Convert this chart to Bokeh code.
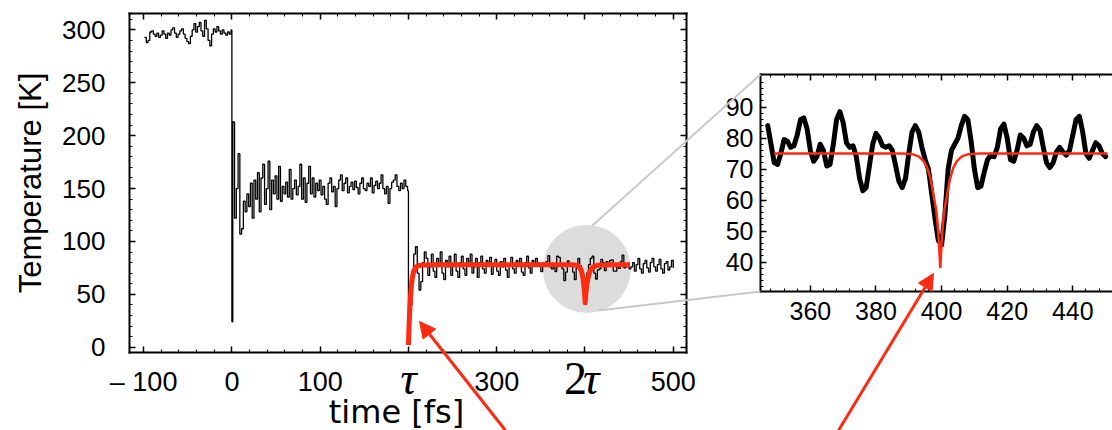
import numpy as np
from bokeh.plotting import figure
from bokeh.models import Range1d, LinearAxis, FixedTicker, Label, Arrow, NormalHead
from bokeh.embed import file_html
from bokeh.resources import INLINE

# ---------------- data ----------------
# main trace, t = -99 ... -1 fs (step 2)
T_PRE = [293, 288, 290, 298, 299, 296, 294, 297, 293, 295,
         299, 296, 292, 297, 295, 300, 302, 297, 293, 296,
         299, 301, 296, 292, 289, 287, 294, 300, 306, 298,
         303, 307, 299, 294, 309, 301, 290, 285, 296, 301,
         298, 303, 299, 296, 300, 297, 295, 298, 296, 300]
# first pulse, t = 0, 1 fs
T_PULSE_T = [0, 1]
T_PULSE = [24, 213]
# t = 3 ... 199 fs (step 2)
T_MID = [122, 150, 183, 107, 112, 138, 128, 145, 133, 155,
         122, 158, 140, 165, 128, 160, 173, 135, 150, 176,
         130, 158, 145, 162, 140, 171, 138, 152, 145, 156,
         142, 168, 140, 150, 158, 144, 152, 173, 140, 160,
         137, 155, 171, 145, 160, 142, 155, 148, 158, 144,
         152, 140, 135, 155, 160, 147, 152, 133, 150, 158,
         163, 148, 155, 160, 146, 152, 156, 149, 157, 151,
         145, 155, 160, 150, 148, 155, 152, 160, 146, 153,
         157, 150, 155, 163, 150, 145, 152, 136, 150, 156,
         158, 163, 152, 148, 155, 150, 158, 152, 148]
# second pulse, t = 200 fs
T_DROP_T = [200]
T_DROP = [3]
# t = 202 ... 346 fs (step 2)
T_LATE_A = [40, 72, 88, 95, 70, 54, 62, 80, 90, 84,
            68, 76, 88, 72, 66, 84, 78, 90, 70, 64,
            82, 76, 86, 68, 79, 88, 72, 66, 80, 86,
            74, 68, 84, 78, 88, 70, 76, 84, 66, 80,
            86, 74, 70, 82, 77, 85, 69, 78, 83, 72,
            68, 81, 76, 84, 73, 66, 79, 85, 74, 70,
            82, 78, 84, 71, 68, 80, 86, 75, 70, 82,
            77, 84, 80]
# zoom window, t = 347 ... 450 fs (step 1)
INSET_T0 = 347
INSET_T = [84, 78, 72, 71.5, 75, 79.5, 79, 77, 77.5, 81,
           86, 86.5, 83, 76, 72.5, 74, 78, 76, 71, 71.5,
           78, 86, 88.5, 85, 78.5, 77, 77.5, 74, 67, 63,
           64, 71, 78, 81.5, 80, 77.5, 77, 77.5, 76, 71,
           66, 64, 67, 75, 82, 84, 82, 77, 73, 70,
           62, 54, 47, 45.5, 55, 70, 76, 78, 80, 84,
           87, 86, 79, 70, 64, 64.5, 69, 73, 74.5, 74,
           77, 83, 84.5, 80, 73, 72.5, 76, 81, 80, 77.5,
           78, 82, 84, 82.5, 77, 72, 70.5, 72, 75.5, 77,
           75.5, 74.5, 76, 81, 86, 87, 82, 75, 73.5, 76,
           78.5, 77.5, 75, 74]
# t = 452 ... 500 fs (step 2)
T_LATE_C = [76, 80, 72, 78, 84, 74, 70, 79, 82, 75,
            71, 80, 84, 76, 72, 78, 83, 74, 70, 79,
            81, 73, 76, 82, 75]

# fitted curve (red), main panel
FIT_MAIN_X = [200, 200.4, 200.9, 201.5, 202.3, 203.3, 204.6, 206.3, 208.5, 212,
              218, 230, 300, 385, 391, 394, 396, 397.6, 398.7, 399.5,
              400.2, 401, 402.1, 403.6, 405.5, 408.5, 414, 430, 451]
FIT_MAIN_Y = [2, 12, 24, 35, 47, 58, 67, 72.5, 75.8, 77.2,
              77.8, 78, 78, 78, 77.5, 75.5, 72, 66, 59, 51,
              42, 51, 59, 66, 72, 75.5, 77.5, 78, 78]
# fitted curve (red), zoom panel
FIT_INSET_X = [349, 370, 388, 391.1, 393.1, 394.6, 395.6, 396.6, 397.3, 397.9,
               398.4, 398.8, 399.2, 399.6, 400.0, 400.4, 400.8, 401.3, 401.9, 402.6,
               403.6, 404.6, 406.1, 408.1, 411.6, 430, 450.6]
FIT_INSET_Y = [75, 75, 75, 74.8, 74, 72.5, 70.5, 67, 63, 59.5,
               56.5, 52, 46, 38, 46, 52, 56.5, 59.5, 63, 67,
               70.5, 72.5, 74, 74.8, 75, 75, 75]

# zoom-window marker (centre of grey disc, in data units)
ZOOM_CENTER_X = [402]
ZOOM_CENTER_Y = [74]

MAIN_XTICKS = [-100, 0, 100, 200, 300, 400, 500]
MAIN_XLABELS = ["\u2013 100", "0", "100", "", "300", "", "500"]
MAIN_YTICKS = [0, 50, 100, 150, 200, 250, 300]
TAU_TICKS = [200, 400]
INSET_XTICKS = [360, 380, 400, 420, 440]
INSET_YTICKS = [40, 50, 60, 70, 80, 90]

# ---------------- build series ----------------
t_pre = -99 + 2 * np.arange(len(T_PRE))
t_mid = 3 + 2 * np.arange(len(T_MID))
t_late_a = 202 + 2 * np.arange(len(T_LATE_A))
inset_t = INSET_T0 + np.arange(len(INSET_T))
even = (inset_t % 2 == 0)
t_late_b = inset_t[even]
v_late_b = np.array(INSET_T)[even]
t_late_c = 452 + 2 * np.arange(len(T_LATE_C))

t_main = np.concatenate([t_pre, T_PULSE_T, t_mid, T_DROP_T, t_late_a, t_late_b, t_late_c])
v_main = np.concatenate([T_PRE, T_PULSE, T_MID, T_DROP, T_LATE_A, v_late_b, T_LATE_C])

RED = "#ff2a12"
GREY = "#c9c9c9"
FONT = "Liberation Sans"

# ---------------- canvas geometry (canvas pixels, y down) ----------------
W, H = 1112, 430
MAIN_BOX = dict(left=129, right=686, top=13, bottom=352)
INSET_BOX = dict(left=760, right=1112, top=74, bottom=291)
MAIN_XR, MAIN_YR = (-116, 515), (-5, 315.5)
INSET_XR, INSET_YR = (344.8, 452.1), (30.5, 100.5)


def xrange_for(dr, box):
    scale = (dr[1] - dr[0]) / (box["right"] - box["left"])
    start = dr[0] - box["left"] * scale
    return Range1d(start=start, end=start + W * scale)


def yrange_for(dr, box):
    scale = (dr[1] - dr[0]) / (box["bottom"] - box["top"])
    end = dr[1] + box["top"] * scale
    return Range1d(start=end - H * scale, end=end)


p = figure(width=W, height=H, x_range=Range1d(0, W), y_range=Range1d(H, 0),
           x_axis_type=None, y_axis_type=None, min_border=0,
           output_backend="svg", toolbar_location=None)
p.outline_line_color = None
p.background_fill_color = "white"
p.border_fill_color = "white"
p.extra_x_ranges = {"mx": xrange_for(MAIN_XR, MAIN_BOX), "ix": xrange_for(INSET_XR, INSET_BOX)}
p.extra_y_ranges = {"my": yrange_for(MAIN_YR, MAIN_BOX), "iy": yrange_for(INSET_YR, INSET_BOX)}


def add_axis(side, xr, yr, loc, bounds, ticks, minor, labels=None,
             size="26px", standoff=10, hide=False):
    ax = LinearAxis(x_range_name=xr, y_range_name=yr, fixed_location=loc, bounds=bounds,
                    ticker=FixedTicker(ticks=ticks, minor_ticks=minor))
    ax.axis_line_color = "black"
    ax.axis_line_width = 2
    ax.axis_line_cap = "square"
    ax.major_tick_in = 6
    ax.major_tick_out = 0
    ax.major_tick_line_color = "black"
    ax.major_tick_line_width = 1.5
    ax.minor_tick_in = 3
    ax.minor_tick_out = 0
    ax.minor_tick_line_color = "black"
    ax.minor_tick_line_width = 1
    ax.major_label_text_font = FONT
    ax.major_label_text_color = "black"
    ax.major_label_text_font_size = size
    ax.major_label_standoff = standoff
    if labels is not None:
        ax.major_label_overrides = {t: l for t, l in zip(ticks, labels)}
    if hide:
        ax.major_label_overrides = {t: "" for t in ticks}
        ax.major_label_text_font_size = "0px"
        ax.major_label_standoff = 0
    p.add_layout(ax, side)
    return ax


# main panel axes (box drawn by the four axis lines)
xminor = [v for v in range(-100, 520, 20) if v % 100 != 0]
yminor = [v for v in range(0, 315, 10) if v % 50 != 0]
add_axis("below", "mx", "my", MAIN_YR[0], MAIN_XR, MAIN_XTICKS, xminor,
         labels=MAIN_XLABELS, size="27px", standoff=14)
yax = add_axis("left", "mx", "my", MAIN_XR[0], MAIN_YR, MAIN_YTICKS, yminor,
               size="26px", standoff=24)
yax.axis_label = "Temperature [K]"
yax.axis_label_text_font = FONT
yax.axis_label_text_font_size = "31px"
yax.axis_label_text_font_style = "normal"
yax.axis_label_text_color = "black"
yax.axis_label_standoff = 11
add_axis("above", "mx", "my", MAIN_YR[1], MAIN_XR, MAIN_XTICKS, xminor, hide=True)
add_axis("right", "mx", "my", MAIN_XR[1], MAIN_YR, MAIN_YTICKS, yminor, hide=True)

# zoom panel axes
ixminor = [v for v in range(348, 452, 4) if v % 20 != 0]
iyminor = [v for v in range(32, 101, 2) if v % 10 != 0]
add_axis("below", "ix", "iy", INSET_YR[0], INSET_XR, INSET_XTICKS, ixminor, size="25px", standoff=10)
add_axis("left", "ix", "iy", INSET_XR[0], INSET_YR, INSET_YTICKS, iyminor, size="25px", standoff=7)
add_axis("above", "ix", "iy", INSET_YR[1], INSET_XR, INSET_XTICKS, ixminor, hide=True)

# main panel data
p.scatter(ZOOM_CENTER_X, ZOOM_CENTER_Y, x_range_name="mx", y_range_name="my",
          size=88, fill_color="#dcdcdc", line_color=None)
p.step(t_main, v_main, mode="after", line_color="black", line_width=1.3,
       x_range_name="mx", y_range_name="my")
p.line(FIT_MAIN_X, FIT_MAIN_Y, line_color=RED, line_width=5, line_join="round",
       x_range_name="mx", y_range_name="my")

# zoom panel data
p.line(inset_t, INSET_T, line_color="black", line_width=5, line_join="round", line_cap="round",
       x_range_name="ix", y_range_name="iy")
p.line(FIT_INSET_X, FIT_INSET_Y, line_color=RED, line_width=2.5,
       x_range_name="ix", y_range_name="iy")

# tau tick labels (main x axis)
yb = MAIN_YR[1] - (378 - MAIN_BOX["top"]) * (MAIN_YR[1] - MAIN_YR[0]) / (MAIN_BOX["bottom"] - MAIN_BOX["top"])
tau_kw = dict(y=yb, x_range_name="mx", y_range_name="my", text_font="Liberation Serif",
              text_font_size="46px", text_baseline="alphabetic", text_color="black")
p.add_layout(Label(x=TAU_TICKS[0], text="\u03c4", text_font_style="italic", text_align="center", **tau_kw))
p.add_layout(Label(x=TAU_TICKS[1], x_offset=2, text="2", text_align="right", **tau_kw))
p.add_layout(Label(x=TAU_TICKS[1], x_offset=-2, text="\u03c4", text_font_style="italic",
                   text_align="left", **tau_kw))

# x axis title (canvas pixels)
p.add_layout(Label(x=396, y=411, text="time [fs]", text_font="DejaVu Sans",
                   text_font_size="32px", text_align="center",
                   text_baseline="alphabetic", text_color="black"))

# grey connectors from zoom disc to zoom panel, red pointer arrows (canvas pixels)
CONNECTORS = [((592, 225), (760, 74)), ((598, 310), (760, 291))]
ARROWS = [((505, 430), (419, 321)), ((838, 430), (933, 273))]
for (a, b) in CONNECTORS:
    p.add_layout(Arrow(end=None, x_start=a[0], y_start=a[1], x_end=b[0], y_end=b[1],
                       line_color=GREY, line_width=2))
for (a, b) in ARROWS:
    p.add_layout(Arrow(end=NormalHead(size=16, fill_color=RED, line_color=RED),
                       x_start=a[0], y_start=a[1], x_end=b[0], y_end=b[1],
                       line_color=RED, line_width=3))

open("out.html", "w").write(file_html(p, INLINE))
